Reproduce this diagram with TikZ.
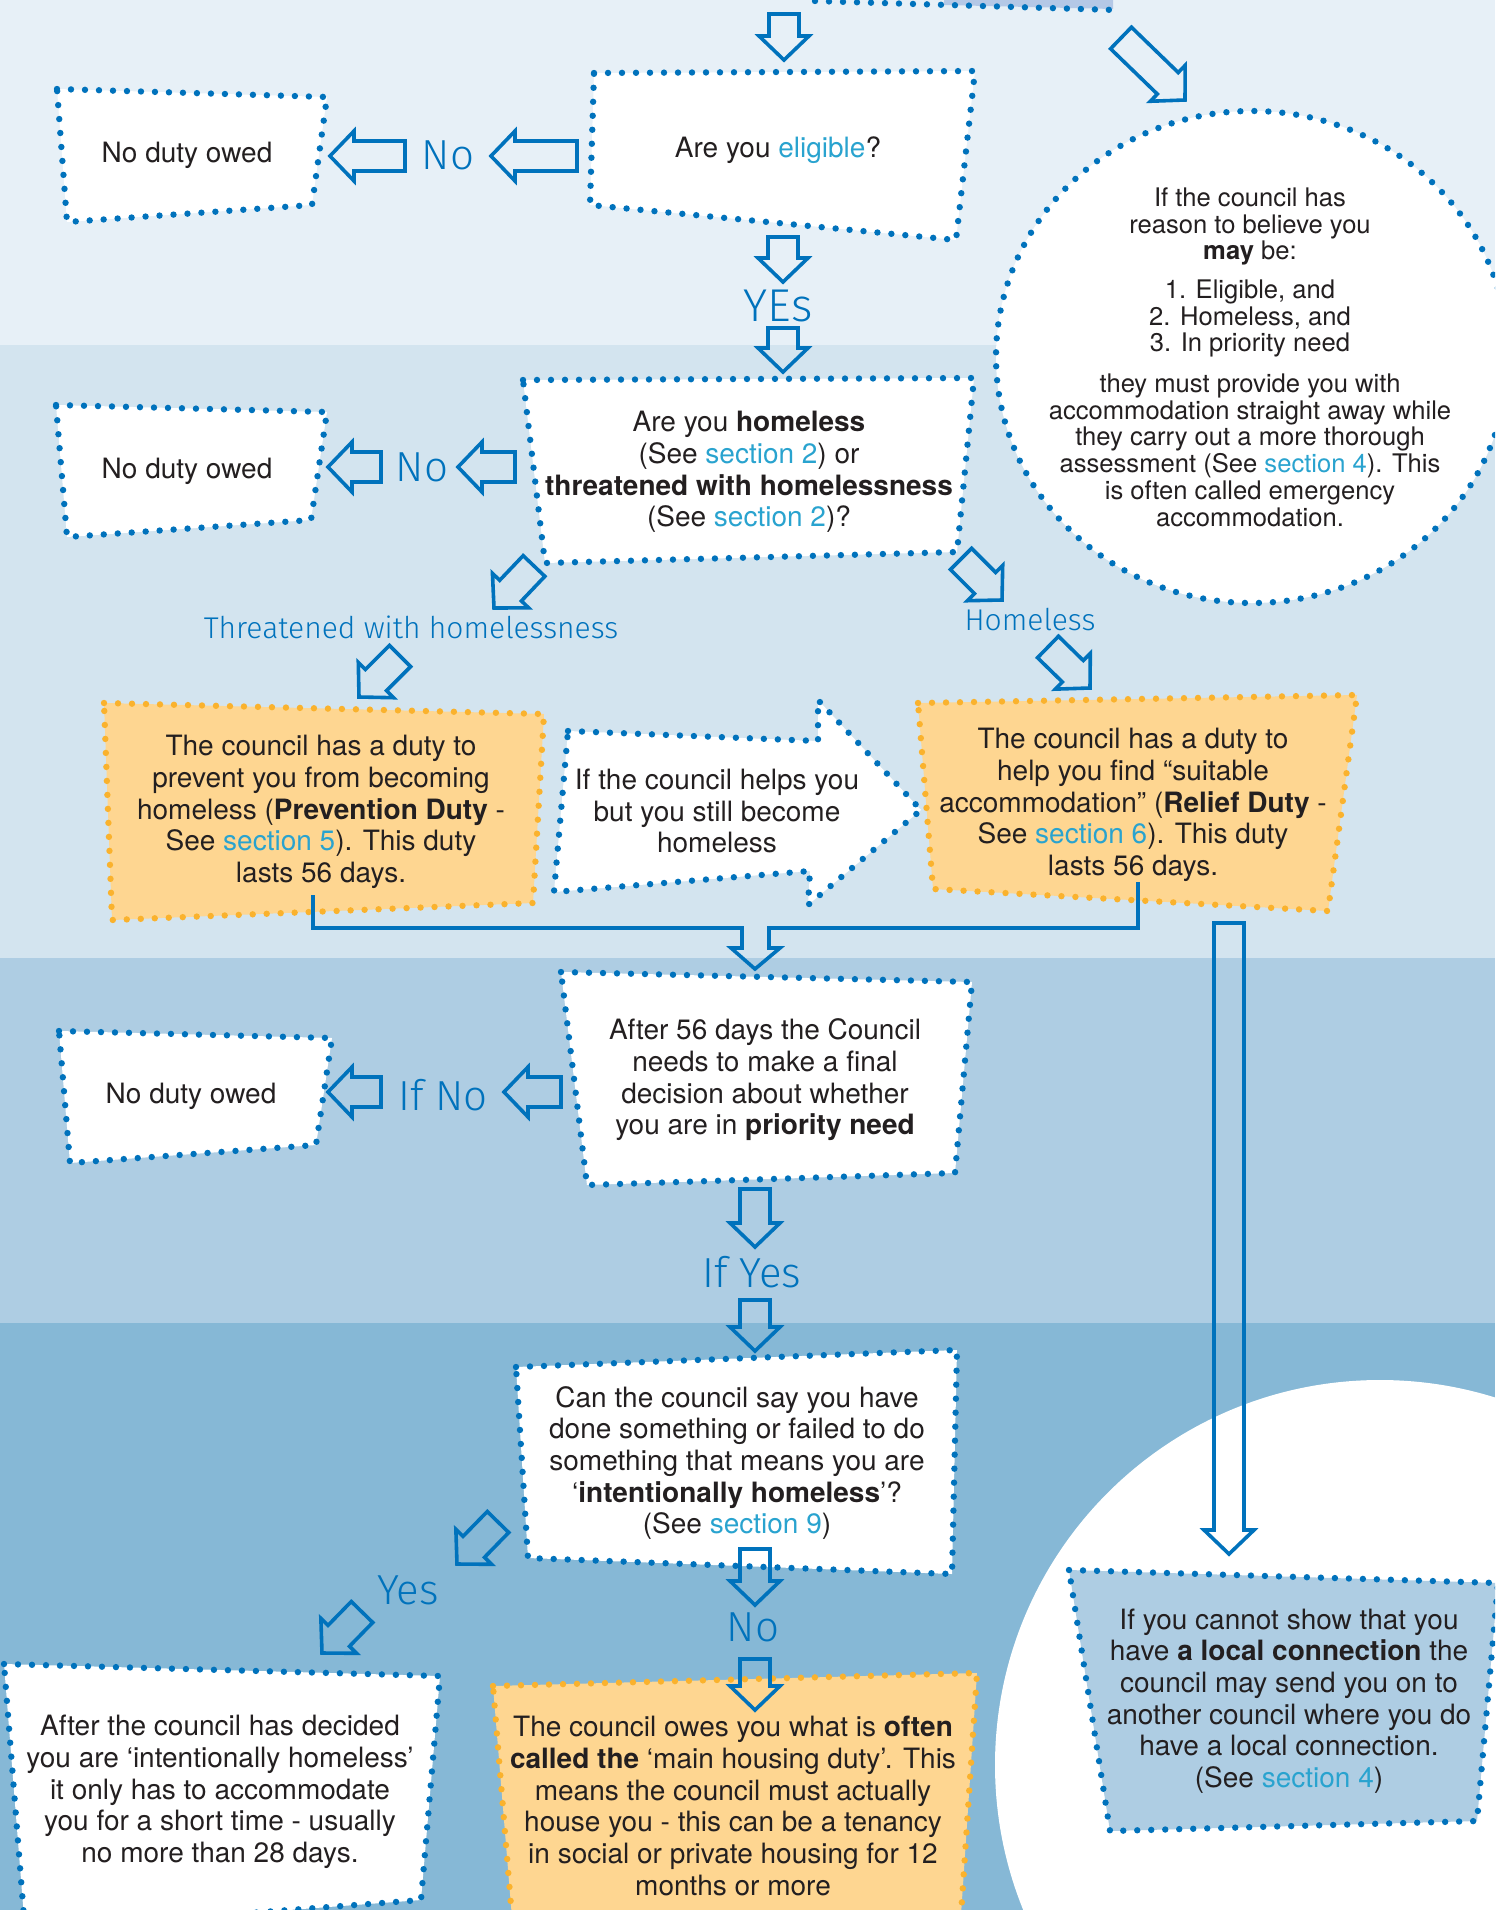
\documentclass[tikz,border=0pt]{standalone}
\usepackage{fontspec}
\setmainfont{TeX Gyre Heros}
\newfontfamily\hand{Fira Sans Light}
\usetikzlibrary{calc}

\definecolor{bandA}{RGB}{231,240,247}
\definecolor{bandB}{RGB}{211,228,239}
\definecolor{bandC}{RGB}{174,205,227}
\definecolor{bandD}{RGB}{134,184,214}
\definecolor{ablue}{RGB}{0,114,188}
\definecolor{lnkc}{RGB}{41,163,207}
\definecolor{ink}{RGB}{35,31,32}
\definecolor{ofill}{RGB}{254,214,145}
\definecolor{odot}{RGB}{250,178,45}
\definecolor{topfill}{RGB}{180,200,230}

\newcommand\lnk[1]{\textcolor{lnkc}{#1}}
\newcommand\barrow[2]{%
  \coordinate (bh) at ($(#2)!12pt!(#1)$);
  \draw[arrowline] ($(#1)!7.5pt!90:(#2)$) -- ($(bh)!7.5pt!90:(#2)$) -- ($(bh)!12.5pt!90:(#2)$)
     -- (#2) -- ($(bh)!12.5pt!-90:(#2)$) -- ($(bh)!7.5pt!-90:(#2)$) -- ($(#1)!7.5pt!-90:(#2)$) -- cycle;}

\tikzset{
  dotb/.style={line width=3.2pt, dash pattern=on 0pt off 7pt, line cap=round, draw=ablue},
  doto/.style={line width=3.2pt, dash pattern=on 0pt off 7pt, line cap=round, draw=odot},
  arrowline/.style={draw=ablue, line width=1.8pt, line join=miter},
  txt/.style={align=center, text=ink, font=\fontsize{14}{15.85}\selectfont, inner sep=0pt},
  ctxt/.style={align=center, text=ink, font=\fontsize{12.8}{13.35}\selectfont, inner sep=0pt},
  hw/.style={text=ablue, font=\hand\fontsize{21}{21}\selectfont, inner sep=0pt},
  hwl/.style={text=ablue, font=\hand\fontsize{23}{23}\selectfont, inner sep=0pt},
  hws/.style={text=ablue, font=\hand\fontsize{15}{15}\selectfont, inner sep=0pt},
}

\begin{document}
\begin{tikzpicture}[x=0.5pt,y=-0.5pt]
\useasboundingbox (0,0) rectangle (1495,1910);
\clip (0,0) rectangle (1495,1910);

% background bands
\fill[bandA] (0,0) rectangle (1495,345);
\fill[bandB] (0,345) rectangle (1495,958);
\fill[bandC] (0,958) rectangle (1495,1323);
\fill[bandD] (0,1323) rectangle (1495,1910);
\fill[white] (1380,1765) circle[radius=192.5pt];

% partial box at the top
\fill[topfill] (944,0) -- (1113,0) -- (1113,9) -- (944,5) -- cycle;
\draw[dotb] (815,1) -- (1115,10);

% dotted circle
\filldraw[fill=white, dotb] (1252,357) ellipse [x radius=128pt, y radius=123pt];
\node[ctxt] (circ) at (1250,357) {If the council has\\reason to believe you\\\textbf{may} be:\\[6pt]
1. Eligible, and\\2. Homeless, and\\3. In priority need\\[7pt]
they must provide you with\\accommodation straight away while\\they carry out a more thorough\\assessment (See \lnk{section 4}). This\\is often called emergency\\accommodation.};

% boxes
\filldraw[fill=white, dotb] (57,89) -- (327,97) -- (312,205) -- (67,222) -- cycle;
\node[txt] (nd1) at (187,155) {No duty owed};

\filldraw[fill=white, dotb] (594,73) -- (975,71) -- (956,240) -- (590,205) -- cycle;
\node[txt] (elig) at (778,150) {Are you \lnk{eligible}?};

\filldraw[fill=white, dotb] (523,380) -- (974,378) -- (957,552) -- (545,563) -- cycle;
\node[txt] (homeq) at (749,472) {Are you \textbf{homeless}\\(See \lnk{section 2}) or\\\textbf{threatened with homelessness}\\(See \lnk{section 2})?};

\filldraw[fill=white, dotb] (56,405) -- (327,412) -- (311,520) -- (67,537) -- cycle;
\node[txt] (nd2) at (187,471) {No duty owed};

\filldraw[fill=ofill, doto] (104,703) -- (544,714) -- (533,903) -- (112,920) -- cycle;
\node[txt] (prev) at (321,812) {The council has a duty to\\prevent you from becoming\\homeless (\textbf{Prevention Duty} -\\See \lnk{section 5}). This duty\\lasts 56 days.};

\filldraw[fill=white, dotb] (568,731) -- (818,741) -- (818,700) -- (921,810) -- (808,905) -- (810,871) -- (554,892) -- cycle;
\node[txt] (helps) at (717,811) {If the council helps you\\but you still become\\homeless};

\filldraw[fill=ofill, doto] (918,703) -- (1357,695) -- (1328,911) -- (933,889) -- cycle;
\node[txt] (relief) at (1133,805) {The council has a duty to\\help you find “suitable\\accommodation” (\textbf{Relief Duty} -\\See \lnk{section 6}). This duty\\lasts 56 days.};

\filldraw[fill=white, dotb] (561,972) -- (972,982) -- (955,1173) -- (587,1185) -- cycle;
\node[txt] (after56) at (765,1080) {After 56 days the Council\\needs to make a final\\decision about whether\\you are in \textbf{priority need}};

\filldraw[fill=white, dotb] (59,1031) -- (332,1038) -- (316,1145) -- (70,1163) -- cycle;
\node[txt] (nd3) at (191,1096) {No duty owed};

\filldraw[fill=white, dotb] (516,1367) -- (957,1350) -- (952,1574) -- (528,1558) -- cycle;
\node[txt] (intent) at (737,1463) {Can the council say you have\\done something or failed to do\\something that means you are\\‘\textbf{intentionally homeless}’?\\(See \lnk{section 9})};

\filldraw[fill=white, dotb] (4,1664) -- (440,1676) -- (421,1900) -- (25,1930) -- cycle;
\node[txt] (short) at (220,1792) {After the council has decided\\you are ‘intentionally homeless’\\it only has to accommodate\\you for a short time - usually\\no more than 28 days.};

\filldraw[fill=ofill, doto] (493,1686) -- (977,1673) -- (960,1930) -- (513,1930) -- cycle;
\node[txt] (main) at (733,1806) {The council owes you what is \textbf{often}\\\textbf{called the} ‘main housing duty’. This\\means the council must actually\\house you - this can be a tenancy\\in social or private housing for 12\\months or more};

\filldraw[fill=bandC, dotb] (1069,1570) -- (1498,1583) -- (1477,1821) -- (1110,1831) -- cycle;
\node[txt] (local) at (1289,1701) {If you cannot show that you\\have \textbf{a local connection} the\\council may send you on to\\another council where you do\\have a local connection.\\(See \lnk{section 4})};

% handwritten labels
\node[hw] (lno1) at (448,155) {No};
\node[hwl] (lyes1) at (778,306) {YEs};
\node[hw] (lno2) at (422,467) {No};
\node[hws] (lthr) at (411,627) {Threatened with homelessness};
\node[hws] (lhom) at (1030,620) {Homeless};
\node[hw] (lifno) at (443,1095) {If No};
\node[hw] (lifyes) at (752,1272) {If Yes};
\node[hw] (lyes2) at (408,1590) {Yes};
\node[hw] (lno3) at (753,1627) {No};

% block arrows
\coordinate (a1s) at (784,14);   \coordinate (a1e) at (784,60);   \barrow{a1s}{a1e}
\coordinate (a2s) at (783,237);  \coordinate (a2e) at (783,282);  \barrow{a2s}{a2e}
\coordinate (a3s) at (783,328);  \coordinate (a3e) at (783,372);  \barrow{a3s}{a3e}
\coordinate (a5s) at (755,1189); \coordinate (a5e) at (755,1247); \barrow{a5s}{a5e}
\coordinate (a6s) at (755,1300); \coordinate (a6e) at (755,1351); \barrow{a6s}{a6e}
\coordinate (a7s) at (755,1549); \coordinate (a7e) at (755,1605); \barrow{a7s}{a7e}
\coordinate (a8s) at (755,1659); \coordinate (a8e) at (755,1710); \barrow{a8s}{a8e}
\coordinate (a9s) at (1229,923); \coordinate (a9e) at (1229,1554); \barrow{a9s}{a9e}

\coordinate (n1s) at (577,156); \coordinate (n1e) at (491,156); \barrow{n1s}{n1e}
\coordinate (n2s) at (405,156); \coordinate (n2e) at (330,156); \barrow{n2s}{n2e}
\coordinate (n3s) at (515,467); \coordinate (n3e) at (458,467); \barrow{n3s}{n3e}
\coordinate (n4s) at (381,467); \coordinate (n4e) at (328,467); \barrow{n4s}{n4e}
\coordinate (n5s) at (561,1092); \coordinate (n5e) at (504,1092); \barrow{n5s}{n5e}
\coordinate (n6s) at (381,1092); \coordinate (n6e) at (328,1092); \barrow{n6s}{n6e}

\coordinate (d0s) at (1121,38);  \coordinate (d0e) at (1185,100); \barrow{d0s}{d0e}
\coordinate (d1s) at (534,566);  \coordinate (d1e) at (494,608);  \barrow{d1s}{d1e}
\coordinate (d2s) at (400,656);  \coordinate (d2e) at (359,697);  \barrow{d2s}{d2e}
\coordinate (d3s) at (961,559);  \coordinate (d3e) at (1002,600); \barrow{d3s}{d3e}
\coordinate (d4s) at (1048,647); \coordinate (d4e) at (1090,688); \barrow{d4s}{d4e}
\coordinate (d5s) at (498,1522); \coordinate (d5e) at (457,1564); \barrow{d5s}{d5e}
\coordinate (d6s) at (362,1612); \coordinate (d6e) at (322,1653); \barrow{d6s}{d6e}

% merging connector from both duty boxes
\coordinate (mL) at (313,895);
\coordinate (mR) at (1138,882);
\coordinate (mT) at (755,969);
\draw[arrowline] (mL) -- (313,928) -- (742,928) -- (742,948) -- (731,948) -- (mT)
  -- (780,948) -- (769,948) -- (769,928) -- (1138,928) -- (mR);
\end{tikzpicture}
\end{document}
